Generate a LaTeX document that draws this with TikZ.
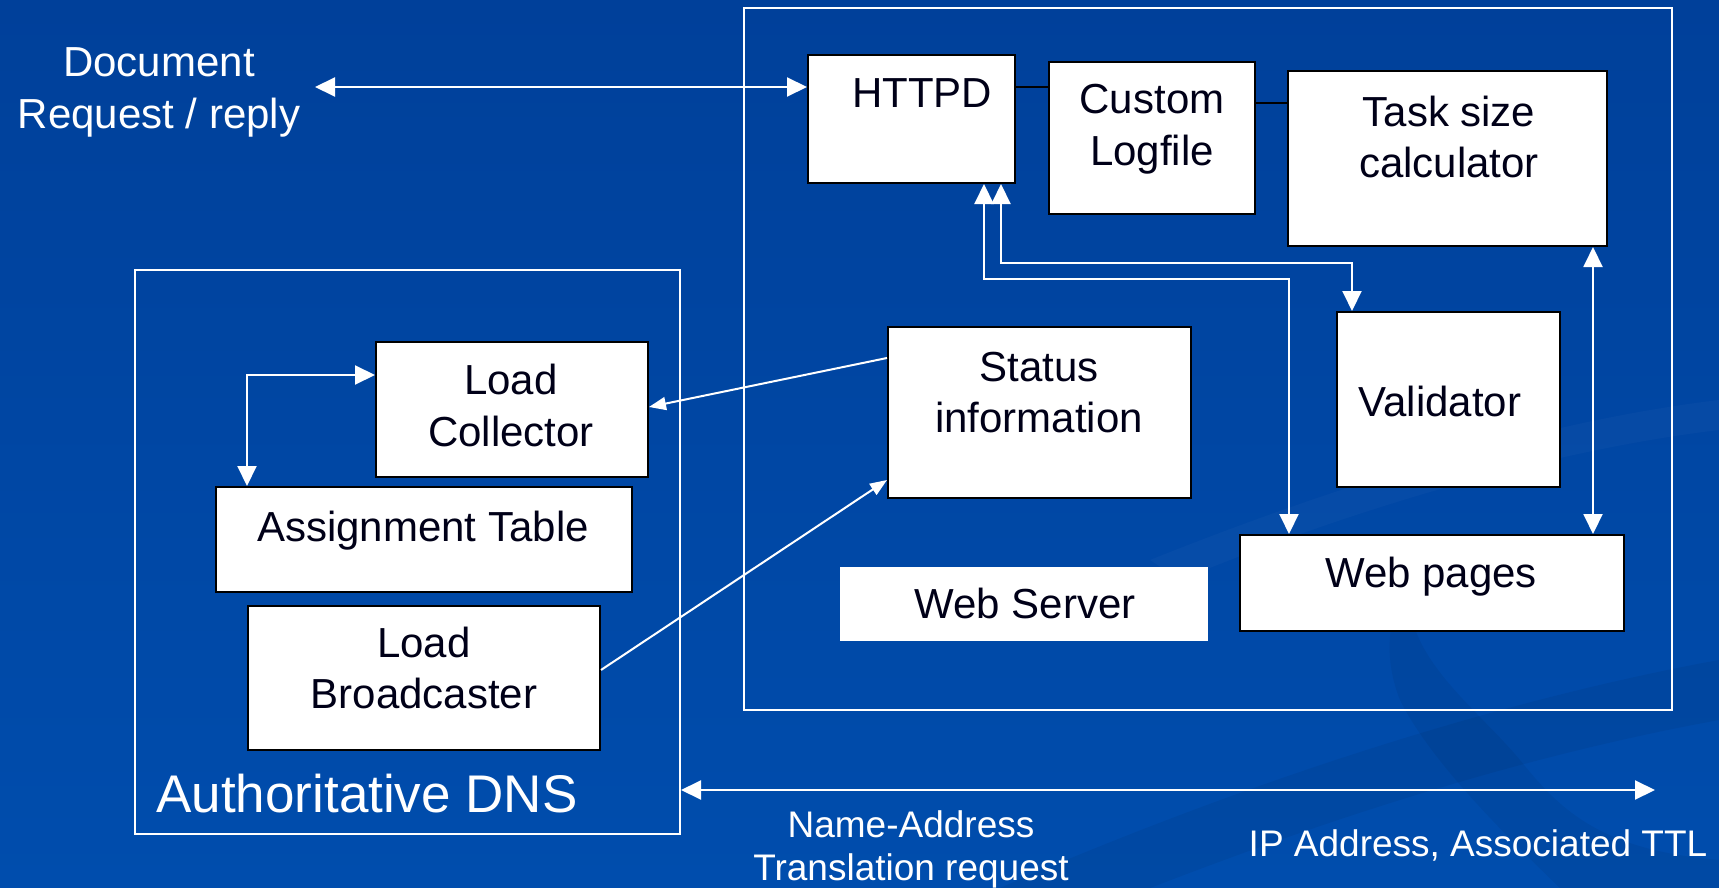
\documentclass[tikz,border=0pt]{standalone}
\usepackage{fontspec}
\setmainfont{Liberation Sans}
\usetikzlibrary{arrows.meta,calc}

\definecolor{bgtop}{HTML}{00409A}
\definecolor{bgbot}{HTML}{004DAD}
\definecolor{ink}{HTML}{000018}

\tikzset{
  box/.style={draw=black, line width=2pt, fill=white, inner sep=0pt},
  plainbox/.style={fill=white, inner sep=0pt},
  frame/.style={draw=white, line width=2pt, inner sep=0pt},
  boxtext/.style={text=ink, anchor=base, inner sep=0pt, font=\fontsize{42}{52}\selectfont},
  wlabel/.style={text=white, anchor=base, inner sep=0pt, font=\fontsize{42}{52}\selectfont},
  slabel/.style={text=white, anchor=base, inner sep=0pt, font=\fontsize{37}{43}\selectfont},
  link/.style={draw=white, line width=2pt},
  bothway/.style={link, {Triangle[length=20pt,width=19pt]}-{Triangle[length=20pt,width=19pt]}},
  oneway/.style={link, -{Triangle[length=17pt,width=13pt]}},
  blackline/.style={draw=black, line width=2pt},
  swoosh/.style={fill=black, opacity=0.05},
}

\begin{document}
\begin{tikzpicture}[x=1pt,y=-1pt]
  % background
  \useasboundingbox (0,0) rectangle (1719,888);
  \shade[top color=bgtop, bottom color=bgbot] (0,0) rectangle (1719,888);
  \fill[swoosh] (1000,888) .. controls (1250,780) and (1500,700) .. (1719,660)
        -- (1719,720) .. controls (1500,760) and (1300,830) .. (1150,888) -- cycle;
  \fill[swoosh] (1420,560) .. controls (1380,640) and (1470,700) .. (1520,760)
        .. controls (1560,810) and (1600,850) .. (1719,860) -- (1719,888) -- (1560,888)
        .. controls (1500,830) and (1430,760) .. (1400,700) .. controls (1380,650) and (1390,600) .. cycle;
  \fill[white, opacity=0.025] (1150,560) .. controls (1350,480) and (1550,420) .. (1719,400)
        -- (1719,430) .. controls (1550,450) and (1350,510) .. (1180,580) -- cycle;

  % outer frames
  \node[frame, minimum width=928pt, minimum height=702pt] (ws) at (1208,359) {};
  \node[frame, minimum width=545pt, minimum height=564pt] (dns) at (407.5,552) {};

  % web server components
  \node[box, minimum width=207pt, minimum height=128pt] (httpd) at (911.5,119) {};
  \node[box, minimum width=206pt, minimum height=152pt] (custom) at (1152,138) {};
  \node[box, minimum width=319pt, minimum height=175pt] (task) at (1447.5,158.5) {};
  \node[box, minimum width=303pt, minimum height=171pt] (status) at (1039.5,412.5) {};
  \node[box, minimum width=223pt, minimum height=175pt] (validator) at (1448.5,399.5) {};
  \node[box, minimum width=384pt, minimum height=96pt] (webpages) at (1432,583) {};
  \node[plainbox, minimum width=368pt, minimum height=74pt] (wslabel) at (1024,604) {};

  % DNS components
  \node[box, minimum width=272pt, minimum height=135pt] (collector) at (512,409.5) {};
  \node[box, minimum width=416pt, minimum height=105pt] (assign) at (424,539.5) {};
  \node[box, minimum width=352pt, minimum height=144pt] (broadcast) at (424,678) {};

  % box texts
  \node[boxtext] (t1) at (922,108) {HTTPD};
  \node[boxtext] (t2) at (1152,114) {Custom};
  \node[boxtext] (t3) at (1152,166) {Logfile};
  \node[boxtext] (t4) at (1449,127) {Task size};
  \node[boxtext] (t5) at (1449,177) {calculator};
  \node[boxtext] (t6) at (1039,381) {Status};
  \node[boxtext] (t7) at (1039,432) {information};
  \node[boxtext] (t8) at (1440,416) {Validator};
  \node[boxtext] (t9) at (1431,587) {Web pages};
  \node[boxtext] (t10) at (1025,618) {Web Server};
  \node[boxtext] (t11) at (511,394) {Load};
  \node[boxtext] (t12) at (511,446) {Collector};
  \node[boxtext] (t13) at (423,541) {Assignment Table};
  \node[boxtext] (t14) at (424,657) {Load};
  \node[boxtext] (t15) at (424,708) {Broadcaster};

  % free labels
  \node[text=white, anchor=base, inner sep=0pt, font=\fontsize{53}{60}\selectfont] (t16) at (367,812) {Authoritative DNS};
  \node[wlabel] (t17) at (159,77) {Document};
  \node[wlabel] (t18) at (159,129) {Request / reply};
  \node[slabel] (t19) at (911,837) {Name-Address};
  \node[slabel] (t20) at (911,880) {Translation request};
  \node[slabel] (t21) at (1478,856) {IP Address, Associated TTL};

  % free connector ends
  \coordinate (docend) at (315,87);
  \coordinate (dnsend) at (1655,790);

  % connectors
  \draw[bothway] (docend) -- (docend -| httpd.west);
  \draw[blackline] (httpd.east |- 0,87) -- (custom.west |- 0,87);
  \draw[blackline] (custom.east |- 0,103) -- (task.west |- 0,103);
  \draw[bothway] (httpd.south -| 984,0) |- (1289,279) -- (webpages.north -| 1289,0);
  \draw[bothway] (httpd.south -| 1001,0) |- (1352,263) -- (validator.north -| 1352,0);
  \draw[bothway] (task.south -| 1593,0) -- (webpages.north -| 1593,0);
  \draw[oneway] (status.west |- 0,358) -- (collector.east |- 0,407);
  \draw[oneway] (broadcast.east |- 0,670) -- (status.west |- 0,480);
  \draw[bothway] (collector.west |- 0,375) -| (assign.north -| 247,0);
  \draw[bothway] (dns.east |- dnsend) -- (dnsend);
\end{tikzpicture}
\end{document}
